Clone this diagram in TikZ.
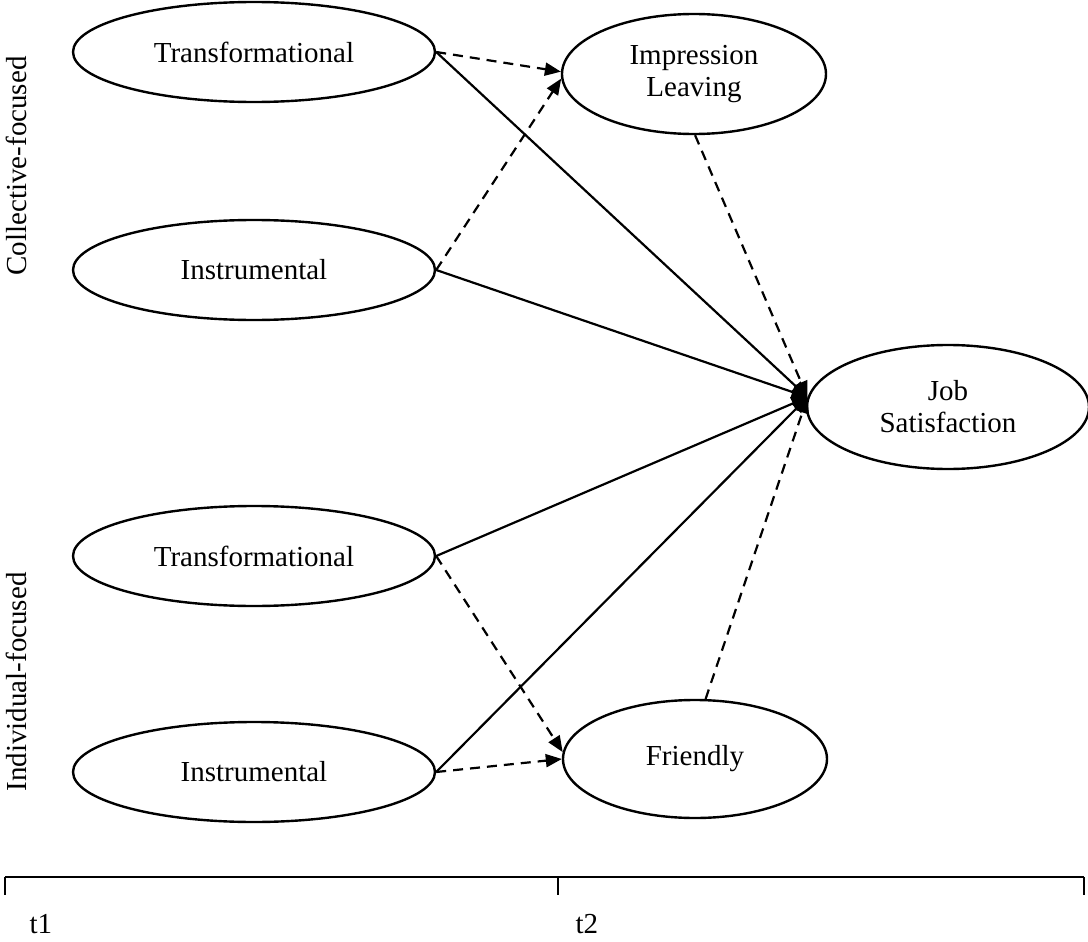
\documentclass[tikz,border=0pt]{standalone}
\usepackage{fontspec}
\setmainfont{Liberation Serif}
\usetikzlibrary{shapes.geometric,arrows.meta}
\begin{document}
\begin{tikzpicture}[x=1pt,y=-1pt,
  every node/.style={font=\fontsize{29}{32}\selectfont},
  oval/.style={ellipse,draw,line width=2.4pt,inner sep=0pt,align=center},
  link/.style={line width=2.2pt,-{Triangle[length=16pt,width=13pt]}},
  dlink/.style={link,dash pattern=on 10pt off 7pt},
  axis/.style={line width=2.6pt}]
\useasboundingbox (0,0) rectangle (1088,942);

% predictors measured at t1
\node[oval,minimum width=362pt,minimum height=100pt] (tc) at (254,52) {Transformational};
\node[oval,minimum width=362pt,minimum height=100pt] (ic) at (254,270) {Instrumental};
\node[oval,minimum width=362pt,minimum height=100pt] (ti) at (254,556) {Transformational};
\node[oval,minimum width=362pt,minimum height=100pt] (ii) at (254,772) {Instrumental};

% mediators and outcome at t2
\node[oval,minimum width=264pt,minimum height=120pt] (il) at (694,74) {Impression\\Leaving};
\node[oval,minimum width=264pt,minimum height=118pt] (fr) at (695,759) {Friendly};
\node[oval,minimum width=282pt,minimum height=124pt] (js) at (948,407) {Job\\Satisfaction};

% group labels
\node[rotate=90] (lc) at (16,166) {Collective-focused};
\node[rotate=90] (li) at (16,682) {Individual-focused};

% paths
\draw[dlink] (tc.east) -- (il.179);
\draw[link]  (tc.east) -- (js.176);
\draw[dlink] (ic.east) -- (il.182);
\draw[link]  (ic.east) -- (js.176);
\draw[dlink] (il.-89) -- (js.176);
\draw[link]  (ti.east) -- (js.176);
\draw[dlink] (ti.east) -- (fr.177);
\draw[link]  (ii.east) -- (js.176);
\draw[dlink] (ii.east) -- (fr.180);
\draw[dlink] (fr.80) -- (js.176);

% time axis
\coordinate (a0) at (5,877);
\coordinate (a1) at (558,877);
\coordinate (a2) at (1084,877);
\draw[axis] (a0) -- (a2);
\draw[axis] (a0) -- ++(0,18);
\draw[axis] (a1) -- ++(0,18);
\draw[axis] (a2) -- ++(0,18);
\node[anchor=west] (t1) at (26,924) {t1};
\node[anchor=west] (t2) at (572,924) {t2};
\end{tikzpicture}
\end{document}
